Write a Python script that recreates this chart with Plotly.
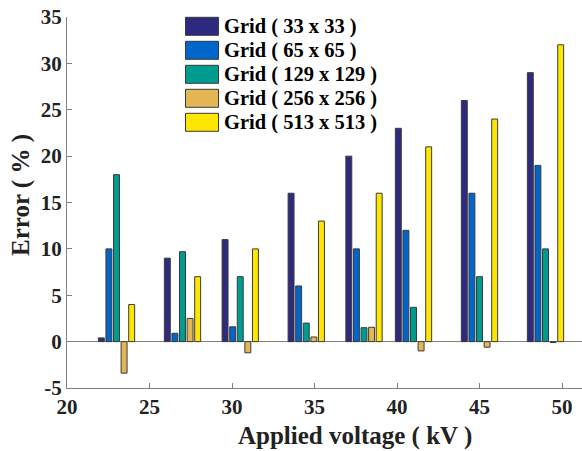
import plotly.graph_objects as go

# ---- data ----
voltages = [23, 27, 30.5, 34.5, 38, 41, 45, 49]
series_names = ["Grid ( 33 x 33 )", "Grid ( 65 x 65 )", "Grid ( 129 x 129 )",
                "Grid ( 256 x 256 )", "Grid ( 513 x 513 )"]
grid_33 = [0.4, 9.0, 11.0, 16.0, 20.0, 23.0, 26.0, 29.0]
grid_65 = [10.0, 0.9, 1.6, 6.0, 10.0, 12.0, 16.0, 19.0]
grid_129 = [18.0, 9.7, 7.0, 2.0, 1.5, 3.7, 7.0, 10.0]
grid_256 = [-3.4, 2.5, -1.2, 0.5, 1.55, -1.0, -0.6, -0.1]
grid_513 = [4.0, 7.0, 10.0, 13.0, 16.0, 21.0, 24.0, 32.0]
x_ticks = [20, 25, 30, 35, 40, 45, 50]
y_ticks = [-5, 0, 5, 10, 15, 20, 25, 30, 35]

series = [grid_33, grid_65, grid_129, grid_256, grid_513]
colors = ["#2D2A80", "#0066C9", "#009C8F", "#E3B755", "#FFE600"]

W, H = 582, 451
L, R, T, B = 67, 0, 17, 63
FONT = "Liberation Serif, Times New Roman, serif"

fig = go.Figure()
slot = 0.46
bw = 0.36
for i, (name, vals, c) in enumerate(zip(series_names, series, colors)):
    fig.add_trace(go.Bar(
        x=voltages, y=vals, name=name,
        width=bw, offset=(i - 2) * slot - bw / 2,
        marker=dict(color=c, line=dict(color="#3a3a3a", width=1)),
        showlegend=False,
    ))

# manual legend (paper coordinates from pixel layout)
pw = W - L - R
ph = H - T - B
def px2x(px):
    return (px - L) / pw
def py2y(py):
    return (H - B - py) / ph

shapes = []
annotations = []
for i, (name, c) in enumerate(zip(series_names, colors)):
    cy = 26.3 + 24 * i
    shapes.append(dict(type="rect", xref="paper", yref="paper",
                       x0=px2x(185.5), x1=px2x(218.5),
                       y0=py2y(cy + 9), y1=py2y(cy - 9),
                       fillcolor=c, line=dict(color="#3a3a3a", width=1)))
    annotations.append(dict(text="<b>" + name + "</b>", xref="paper", yref="paper",
                            x=px2x(221.5), y=py2y(cy + 0.5), xanchor="left", yanchor="middle",
                            showarrow=False, font=dict(family=FONT, size=20.5, color="black")))

annotations.append(dict(text="<b>Applied voltage ( kV )</b>", xref="paper", yref="paper",
                        x=px2x(355), y=py2y(436), xanchor="center", yanchor="middle",
                        showarrow=False, font=dict(family=FONT, size=25, color="#222")))
annotations.append(dict(text="<b>Error ( % )</b>", xref="paper", yref="paper",
                        x=px2x(21), y=py2y(195), xanchor="center", yanchor="middle",
                        textangle=-90,
                        showarrow=False, font=dict(family=FONT, size=25, color="#222")))

fig.update_layout(
    width=W, height=H,
    margin=dict(l=L, r=R, t=T, b=B, pad=0),
    paper_bgcolor="white", plot_bgcolor="white",
    shapes=shapes, annotations=annotations,
    font=dict(family=FONT, color="#222"),
    xaxis=dict(range=[20, 20 + pw / 16.5], tickvals=x_ticks,
               ticktext=["<b>%d</b>" % v for v in x_ticks],
               ticks="inside", ticklen=5, tickcolor="#808080",
               showline=True, linecolor="#808080", linewidth=1,
               showgrid=False, zeroline=False,
               tickfont=dict(family=FONT, size=21, color="#222")),
    yaxis=dict(range=[-5, 35], tickvals=y_ticks,
               ticktext=["<b>%d</b>" % v for v in y_ticks],
               ticks="inside", ticklen=5, tickcolor="#808080",
               showline=True, linecolor="#808080", linewidth=1,
               showgrid=False, zeroline=True, zerolinecolor="#808080", zerolinewidth=1,
               tickfont=dict(family=FONT, size=21, color="#222")),
)

fig.write_html("out.html", config={"displayModeBar": False},
               post_script="document.body.style.margin='0';document.body.style.overflow='hidden';")
